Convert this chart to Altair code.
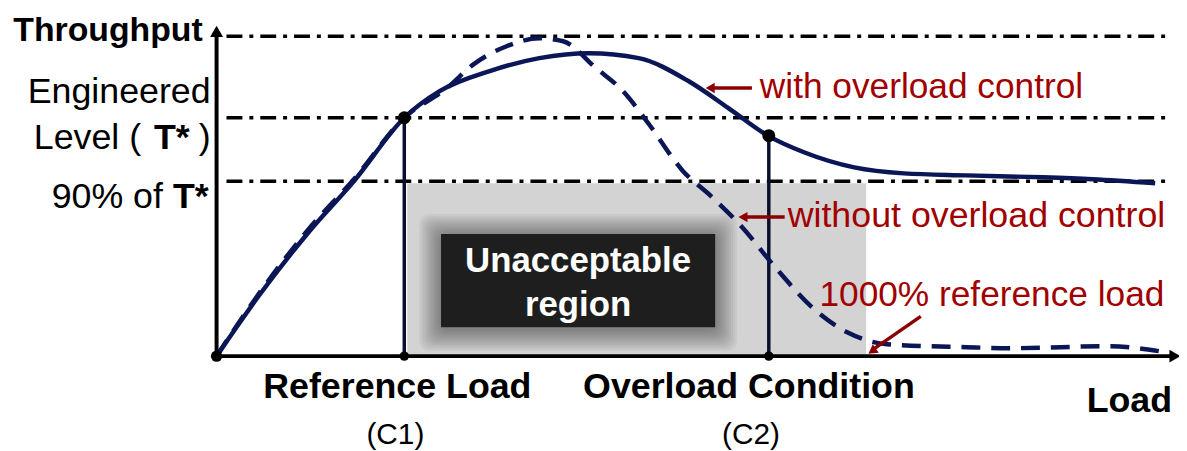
import altair as alt
import pandas as pd

# ---- data (diagram units: load to the right of origin, throughput above origin) ----
load_with = [0, 42, 92, 139, 189, 225, 275, 325, 375, 425, 475, 515, 555, 592, 642, 692, 755, 832, 882, 945]
thr_with = [0, 60, 124, 177, 240, 267, 287, 300, 305, 300, 277, 250, 222, 205, 190, 184, 182, 180, 178, 174]

load_without = [0, 42, 92, 139, 189, 232, 259, 292, 325, 349, 382, 409, 435, 469, 499, 529, 562, 602, 635, 675, 755, 799, 899, 949]
thr_without = [0, 62, 127, 179, 240, 270, 294, 312, 320, 317, 290, 267, 234, 187, 160, 130, 90, 47, 24, 12, 9, 8, 10, 5]

level_names = ["Peak", "Engineered Level (T*)", "90% of T*"]
level_values = [322, 240, 176]
level_span = [10, 957]

point_names = ["C1", "C2"]
point_load = [189, 556]
point_thr = [240, 222]

region_load = [192, 654]
region_thr = [0, 174]
box_load = [226, 502]
box_thr = [29, 123]

curve_labels = ["with overload control", "without overload control", "1000% reference load"]
x_labels = ["Reference Load", "(C1)", "Overload Condition", "(C2)", "Load"]
y_labels = ["Throughput", "Engineered", "Level (", "T*", ")", "90% of", "T*"]
box_labels = ["Unacceptable", "region"]

# ---- styling ----
NAVY = "#0b1657"
DARK = "#0a0f2e"
RED_TXT = "#a00000"
RED_ARR = "#8b0000"
FONT = "Liberation Sans"

XS = alt.Scale(domain=[-210, 969], nice=False, zero=False)
YS = alt.Scale(domain=[-94, 349], nice=False, zero=False)


def X(f="load"):
    return alt.X(f"{f}:Q", scale=XS, axis=None)


def Y(f="thr"):
    return alt.Y(f"{f}:Q", scale=YS, axis=None)


layers = []

# unacceptable region
reg = pd.DataFrame({"x": [region_load[0]], "x2": [region_load[1]], "y": [region_thr[0]], "y2": [region_thr[1]]})
layers.append(alt.Chart(reg).mark_rect(color="#d3d3d3").encode(x=X("x"), x2="x2:Q", y=Y("y"), y2="y2:Q"))

# soft shadow around the dark box
sh_rows = []
for e in range(22, 0, -2):
    sh_rows.append({"x": box_load[0] - e, "x2": box_load[1] + e, "y": box_thr[0] - e - 2, "y2": box_thr[1] + e - 2})
sh = pd.DataFrame(sh_rows)
layers.append(alt.Chart(sh).mark_rect(color="black", opacity=0.04, cornerRadius=10).encode(
    x=X("x"), x2="x2:Q", y=Y("y"), y2="y2:Q"))

box = pd.DataFrame({"x": [box_load[0]], "x2": [box_load[1]], "y": [box_thr[0]], "y2": [box_thr[1]]})
layers.append(alt.Chart(box).mark_rect(color="#1e1e1e").encode(x=X("x"), x2="x2:Q", y=Y("y"), y2="y2:Q"))

# dash-dot reference levels
lv = pd.DataFrame({"name": level_names, "y": level_values, "x": [level_span[0]] * 3, "x2": [level_span[1]] * 3})
layers.append(alt.Chart(lv).mark_rule(color="black", strokeWidth=3.5, strokeDash=[16, 7, 4, 7]).encode(
    x=X("x"), x2="x2:Q", y=Y("y")))

# vertical lines at C1 / C2
vl = pd.DataFrame({"x": point_load, "y": [0, 0], "y2": point_thr})
layers.append(alt.Chart(vl).mark_rule(color=DARK, strokeWidth=3.5).encode(x=X("x"), y=Y("y"), y2="y2:Q"))

# curves
cw = pd.DataFrame({"load": load_with, "thr": thr_with})
cwo = pd.DataFrame({"load": load_without, "thr": thr_without})
layers.append(alt.Chart(cwo).mark_line(color=NAVY, strokeWidth=4.5, strokeDash=[19, 11], interpolate="monotone").encode(
    x=X(), y=Y(), order="load:Q"))
layers.append(alt.Chart(cw).mark_line(color=NAVY, strokeWidth=4.5, interpolate="monotone").encode(
    x=X(), y=Y(), order="load:Q"))

# axes
ax = pd.DataFrame({"x": [0, 0], "x2": [0, 960], "y": [0, 0], "y2": [322, 0]})
layers.append(alt.Chart(ax).mark_rule(color="black", strokeWidth=4).encode(x=X("x"), x2="x2:Q", y=Y("y"), y2="y2:Q"))
arr_axes = pd.DataFrame({"x": [0, 965], "y": [327, 0], "s": ["triangle-up", "triangle-right"]})
layers.append(alt.Chart(arr_axes).mark_point(filled=True, color="black", opacity=1, size=170).encode(
    x=X("x"), y=Y("y"), shape=alt.Shape("s:N", scale=None)))

# dots
dots = pd.DataFrame({"x": [0] + point_load, "y": [0] + point_thr, "sz": [130, 170, 170]})
layers.append(alt.Chart(dots).mark_point(filled=True, color="black", opacity=1).encode(
    x=X("x"), y=Y("y"), size=alt.Size("sz:Q", scale=None)))
dots_b = pd.DataFrame({"x": point_load, "y": [0, 0]})
layers.append(alt.Chart(dots_b).mark_point(filled=True, color="black", opacity=1, size=90).encode(x=X("x"), y=Y("y")))

# red annotation arrows
arr = pd.DataFrame({"x": [539, 572, 709], "y": [270, 140, 40], "x2": [497, 530, 660], "y2": [270, 140, 6]})
layers.append(alt.Chart(arr).mark_rule(color=RED_ARR, strokeWidth=3.5).encode(x=X("x"), x2="x2:Q", y=Y("y"), y2="y2:Q"))
heads = pd.DataFrame({"x": [497, 530, 660], "y": [270, 140, 5], "ang": [270, 270, 235]})
layers.append(alt.Chart(heads).mark_point(filled=True, color=RED_ARR, opacity=1, size=110, shape="triangle-up").encode(
    x=X("x"), y=Y("y"), angle=alt.Angle("ang:Q", scale=None)))


def label(text, x, y, **kw):
    d = pd.DataFrame({"load": [x], "thr": [y], "t": [text]})
    base = dict(font=FONT, baseline="alphabetic")
    base.update(kw)
    return alt.Chart(d).mark_text(**base).encode(x=X(), y=Y(), text="t:N")


# red curve labels
layers.append(label(curve_labels[0], 547, 260, fontSize=35.5, color=RED_TXT, align="left"))
layers.append(label(curve_labels[1], 575, 130, fontSize=36, color=RED_TXT, align="left"))
layers.append(label(curve_labels[2], 607, 50, fontSize=35.5, color=RED_TXT, align="left"))

# box text
layers.append(label(box_labels[0], 364, 85, fontSize=35, fontWeight="bold", color="white", align="center"))
layers.append(label(box_labels[1], 364, 40, fontSize=35, fontWeight="bold", color="white", align="center"))

# x labels
layers.append(label(x_labels[0], 182, -42, fontSize=36, fontWeight="bold", color="black", align="center"))
layers.append(label(x_labels[1], 180, -88, fontSize=30, color="black", align="center"))
layers.append(label(x_labels[2], 536, -42, fontSize=36, fontWeight="bold", color="black", align="center"))
layers.append(label(x_labels[3], 538, -88, fontSize=30, color="black", align="center"))
layers.append(label(x_labels[4], 962, -56, fontSize=36, fontWeight="bold", color="black", align="right"))

# y labels
layers.append(label(y_labels[0], -14, 317, fontSize=34, fontWeight="bold", color="black", align="right"))
layers.append(label(y_labels[1], -6, 255, fontSize=36, color="black", align="right"))
layers.append(label(y_labels[2], -76, 209, fontSize=36, color="black", align="right"))
layers.append(label(y_labels[3], -27, 209, fontSize=36, fontWeight="bold", color="black", align="right"))
layers.append(label(y_labels[4], -6, 209, fontSize=36, color="black", align="right"))
layers.append(label(y_labels[5], -54, 149, fontSize=36, color="black", align="right"))
layers.append(label(y_labels[6], -8, 149, fontSize=36, fontWeight="bold", color="black", align="right"))

chart = alt.layer(*layers).properties(
    width=1179, height=443, padding=0, autosize=alt.AutoSizeParams(type="none")
).configure_view(stroke=None)

chart.save("out.html", embed_options={"renderer": "svg", "actions": False})
